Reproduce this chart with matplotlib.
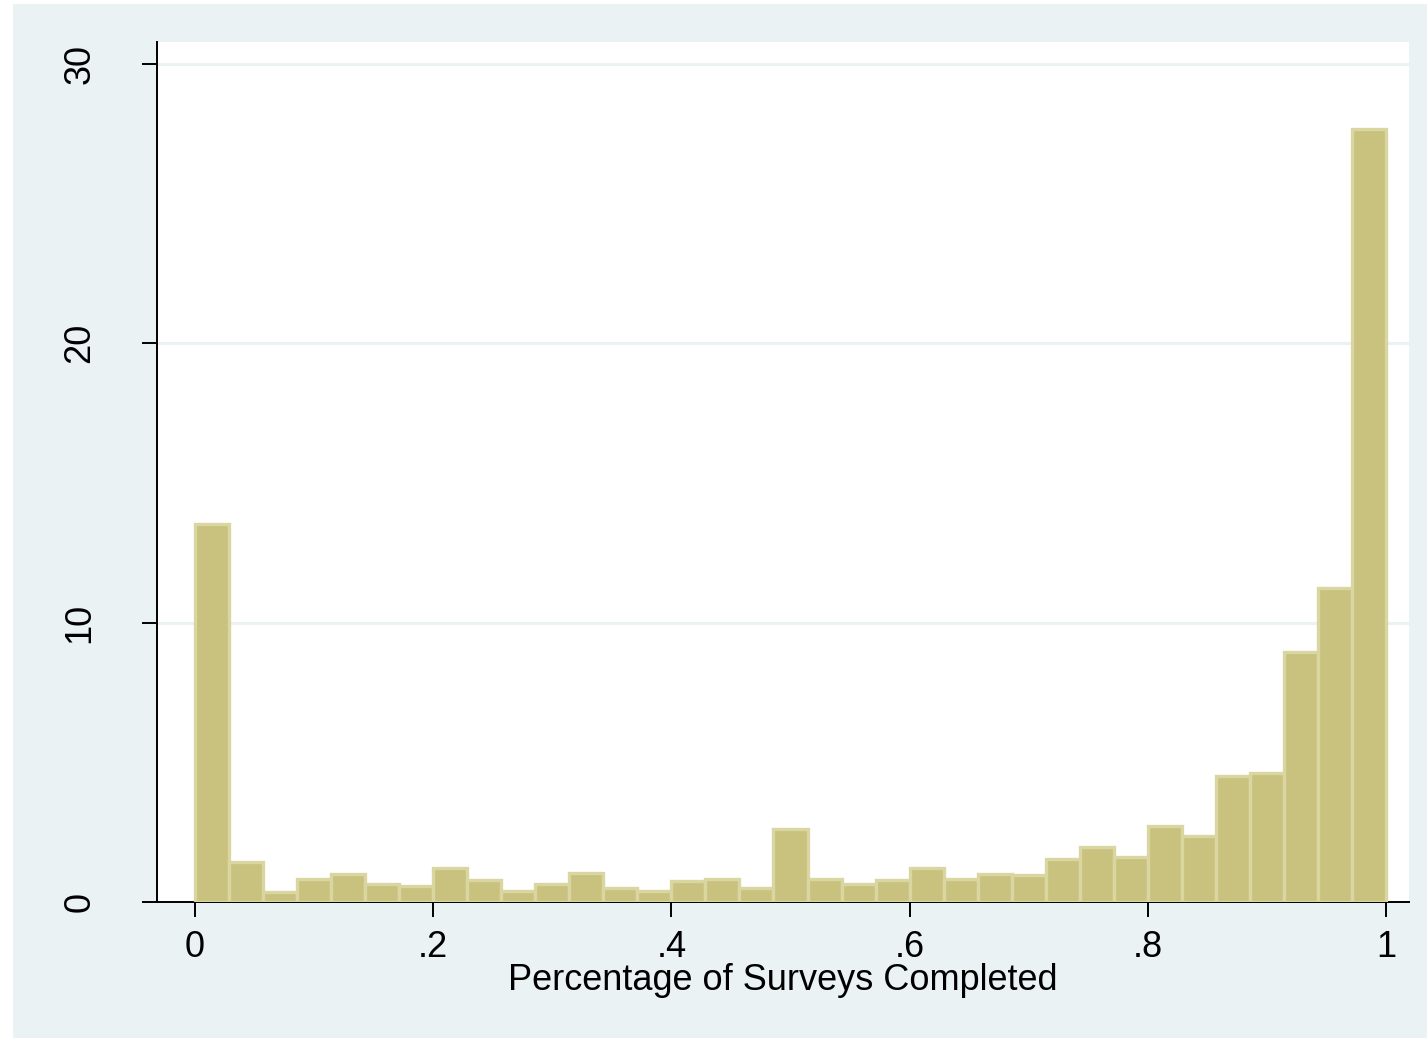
import matplotlib
matplotlib.use("Agg")
import matplotlib.pyplot as plt
from matplotlib.patches import Rectangle
import numpy as np

# Data: percent per bin (35 equal bins over 0..1)
bin_left = [i / 35 for i in range(35)]
percent = [13.53, 1.42, 0.35, 0.82, 1.01, 0.63, 0.58, 1.23, 0.80, 0.39,
           0.63, 1.04, 0.49, 0.39, 0.75, 0.82, 0.49, 2.61, 0.82, 0.63,
           0.80, 1.23, 0.82, 1.01, 0.97, 1.54, 1.97, 1.61, 2.71, 2.35,
           4.52, 4.62, 8.94, 11.23, 27.67]
xticks = [0, 0.2, 0.4, 0.6, 0.8, 1.0]
xticklabels = ["0", ".2", ".4", ".6", ".8", "1"]
yticks = [0, 10, 20, 30]
yticklabels = ["0", "10", "20", "30"]

plt.rcParams['font.family'] = ['Liberation Sans', 'DejaVu Sans']

W, H = 1427, 1038
fig = plt.figure(figsize=(W / 100, H / 100), dpi=100, facecolor="white")
bg = "#EAF2F3"
fig.patches.append(Rectangle((13 / W, -0.01), 1.01, 1.01 - 4 / H,
                             transform=fig.transFigure, facecolor=bg,
                             edgecolor="none", zorder=-10))

ax = fig.add_axes([157 / W, 1 - 902 / H, (1409 - 157) / W, (902 - 42) / H])
ax.set_facecolor("white")

ax.bar(bin_left, percent, width=1 / 35, align="edge",
       color="#C9C27E", edgecolor="#DAD6A2", linewidth=2.4, zorder=3)

ax.set_xlim(-38 / 1191, 1 + 23 / 1191)
ax.set_ylim(0, 30 + 22 / 27.93)

for y in yticks[1:]:
    ax.axhline(y, color=bg, linewidth=2.2, zorder=1)

ax.set_xticks(xticks)
ax.set_xticklabels(xticklabels)
ax.set_yticks(yticks)
ax.set_yticklabels(yticklabels, rotation=90, va="center")

ax.tick_params(axis="x", length=11, width=1.4, pad=9, labelsize=26, colors="black")
ax.tick_params(axis="y", length=11, width=1.4, pad=32, labelsize=26, colors="black")

for s in ["top", "right"]:
    ax.spines[s].set_visible(False)
for s in ["left", "bottom"]:
    ax.spines[s].set_linewidth(1.4)
    ax.spines[s].set_color("black")

ax.set_xlabel("Percentage of Surveys Completed", fontsize=26)
ax.xaxis.set_label_coords(0.5, (902 - 981) / 860)
ax.xaxis.label.set_va("center")

fig.savefig("out.png", dpi=100, facecolor="white")
